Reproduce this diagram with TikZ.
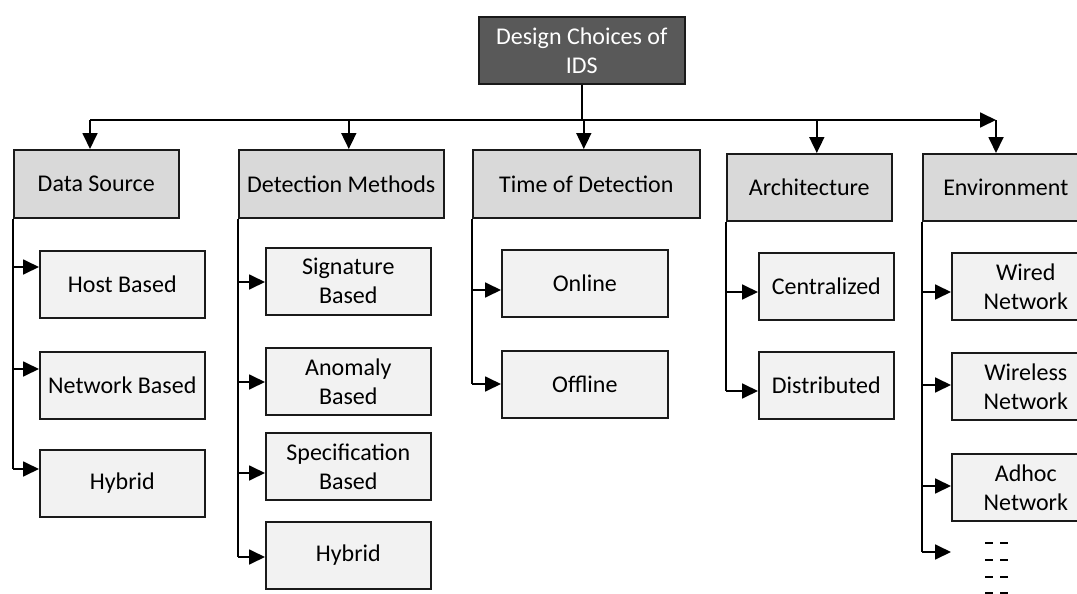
\documentclass[tikz,border=0pt]{standalone}
\usepackage{fontspec}
\setmainfont{Carlito}
\usetikzlibrary{arrows.meta}
\definecolor{topfill}{HTML}{595959}
\definecolor{hdrfill}{HTML}{D9D9D9}
\definecolor{leaffill}{HTML}{F2F2F2}
\definecolor{edge}{HTML}{1A1A1A}
\begin{document}
\begin{tikzpicture}[x=1pt,y=-1pt,
  box/.style={draw=edge, line width=1.6pt, inner sep=0pt, anchor=north west, align=center, font=\fontsize{24}{29}\selectfont},
  topbox/.style={box, fill=topfill, text=white},
  hdr/.style={box, fill=hdrfill, minimum height=68pt},
  leaf/.style={box, fill=leaffill, minimum height=67pt},
  conn/.style={line width=1.8pt, draw=black},
  arr/.style={conn, -{Triangle[length=16pt,width=15pt]}}]
\useasboundingbox (0,0) rectangle (1077,594);

% top
\node[topbox, minimum width=206pt, minimum height=67pt] (top) at (478,16) {Design Choices of\\IDS};

% headers
\node[hdr, minimum width=165pt] (ds) at (13,149) {Data Source};
\node[hdr, minimum width=205pt] (dm) at (238,149) {Detection Methods};
\node[hdr, minimum width=227pt] (td) at (472,149) {Time of Detection};
\node[hdr, minimum width=165pt, minimum height=67pt] (ar) at (726,153) {Architecture};
\node[hdr, minimum width=166pt, minimum height=67pt] (en) at (922,153) {Environment};

% leaves
\node[leaf, minimum width=165pt] (ds1) at (39,250) {Host Based};
\node[leaf, minimum width=165pt] (ds2) at (39,351) {Network Based};
\node[leaf, minimum width=165pt] (ds3) at (39,449) {Hybrid};

\node[leaf, minimum width=165pt] (dm1) at (265,247) {Signature\\Based};
\node[leaf, minimum width=165pt] (dm2) at (265,347) {Anomaly\\Based};
\node[leaf, minimum width=165pt] (dm3) at (265,432) {Specification\\Based};
\node[leaf, minimum width=165pt] (dm4) at (265,521) {Hybrid};

\node[leaf, minimum width=166pt] (td1) at (501,249) {Online};
\node[leaf, minimum width=166pt] (td2) at (501,350) {Offline};

\node[leaf, minimum width=135pt] (ar1) at (758,252) {Centralized};
\node[leaf, minimum width=135pt] (ar2) at (758,351) {Distributed};

\node[leaf, minimum width=148pt] (en1) at (951,252) {Wired\\Network};
\node[leaf, minimum width=148pt] (en2) at (951,352) {Wireless\\Network};
\node[leaf, minimum width=148pt] (en3) at (951,453) {Adhoc\\Network};

% bus
\coordinate (busL) at (90,120);
\coordinate (busR) at (996,120);
\draw[conn] (top.south) -- (top.south |- busL);
\draw[arr] (busL) -- (busR);
\draw[arr] (busR) -- (busR |- en.north);
\draw[arr] (busL) -- (busL |- ds.north);
\draw[arr] ([xshift=7.5pt]dm.north |- busL) -- ([xshift=7.5pt]dm.north);
\draw[arr] ([xshift=-2.5pt]td.north |- busL) -- ([xshift=-2.5pt]td.north);
\draw[arr] ([xshift=7.5pt]ar.north |- busL) -- ([xshift=7.5pt]ar.north);

% arrow targets
\coordinate (ds1p) at ([yshift=-17pt]ds1.north west);
\coordinate (ds2p) at ([yshift=-18pt]ds2.north west);
\coordinate (ds3p) at ([yshift=-20pt]ds3.north west);
\coordinate (dm1p) at ([yshift=-35pt]dm1.north west);
\coordinate (dm2p) at ([yshift=-35pt]dm2.north west);
\coordinate (dm3p) at ([yshift=-41pt]dm3.north west);
\coordinate (dm4p) at ([yshift=-36pt]dm4.north west);
\coordinate (td1p) at ([yshift=-41pt]td1.north west);
\coordinate (td2p) at ([yshift=-34pt]td2.north west);
\coordinate (ar1p) at ([yshift=-40pt]ar1.north west);
\coordinate (ar2p) at ([yshift=-40pt]ar2.north west);
\coordinate (en1p) at ([yshift=-40pt]en1.north west);
\coordinate (en2p) at ([yshift=-33pt]en2.north west);
\coordinate (en3p) at ([yshift=-33pt]en3.north west);
\coordinate (en4p) at (951,552);

% trunks
\draw[conn] (ds.south west) -- (ds.south west |- ds3p);
\draw[conn] (dm.south west) -- (dm.south west |- dm4p);
\draw[conn] (td.south west) -- (td.south west |- td2p);
\draw[conn] (ar.south west) -- (ar.south west |- ar2p);
\draw[conn] (en.south west) -- (en.south west |- en4p);

\foreach \p/\h in {ds1p/ds,ds2p/ds,ds3p/ds,dm1p/dm,dm2p/dm,dm3p/dm,dm4p/dm,td1p/td,td2p/td,ar1p/ar,ar2p/ar,en1p/en,en2p/en,en3p/en,en4p/en}
  \draw[arr] (\h.south west |- \p) -- (\p);

% continuation marks
\foreach \y in {543,560,577,593}
  \draw[conn] (985,\y) -- (993,\y) (1000,\y) -- (1008,\y);
\end{tikzpicture}
\end{document}
